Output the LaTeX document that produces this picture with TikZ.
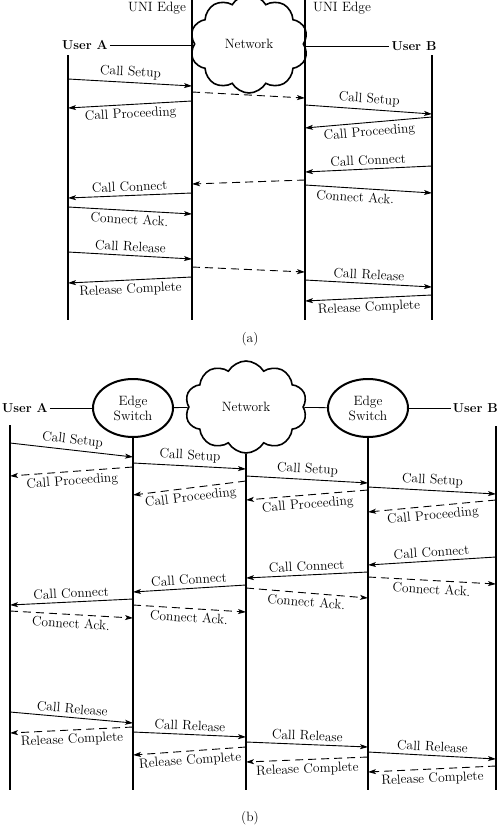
\documentclass[tikz,border=0pt]{standalone}
\usepackage{fontspec}
\usetikzlibrary{arrows.meta,shapes.geometric,shapes.symbols}
\tikzset{
  life/.style={line width=2pt},
  msg/.style={line width=0.9pt, -{Stealth[length=8pt,width=5pt,inset=2pt]}},
  reply/.style={msg, dash pattern=on 8pt off 5pt},
  lbl/.style={font=\fontsize{13.5}{15}\selectfont, inner sep=3.5pt, sloped},
  who/.style={font=\fontsize{13}{15}\selectfont\bfseries, inner sep=2pt},
  netcloud/.style={cloud, draw, line width=1.6pt, cloud puffs=10, cloud puff arc=120,
    cloud ignores aspect, inner sep=0pt, font=\fontsize{13.5}{15}\selectfont},
  switch/.style={ellipse, draw, line width=2pt, minimum width=80pt, minimum height=58pt,
    inner sep=0pt, align=center, font=\fontsize{13.5}{15}\selectfont}
}
\begin{document}
\begin{tikzpicture}[x=1pt, y=-1pt]
  \useasboundingbox (0,0) rectangle (500,827);
  % (a)
  \coordinate (aA) at (68,55);
  \coordinate (aL) at (192,0);
  \coordinate (aR) at (305,0);
  \coordinate (aB) at (432,55);
  \node[netcloud, minimum width=118pt, minimum height=98pt] (aNet) at (249,44) {Network};
  \node[font=\fontsize{13.5}{15}\selectfont] (aUniL) at (157,8) {UNI Edge};
  \node[font=\fontsize{13.5}{15}\selectfont] (aUniR) at (342,8) {UNI Edge};
  \node[who] (aUserA) at (85,45) {User A};
  \node[who] (aUserB) at (414,46) {User B};
  \draw[line width=0.8pt] (aUserA) -- (aL |- aUserA);
  \draw[line width=0.8pt] (aR |- aUserB) -- (aUserB);
  \draw[life] (aA) -- (aA |- 0,320);
  \draw[life] (aL) -- (aL |- 0,320);
  \draw[life] (aR) -- (aR |- 0,320);
  \draw[life] (aB) -- (aB |- 0,320);

  \draw[msg] (aA |- 0,79) -- (aL |- 0,86) node[midway, above, lbl] {Call Setup};
  \draw[reply] (aL |- 0,92) -- (aR |- 0,98);
  \draw[msg] (aR |- 0,105) -- (aB |- 0,114) node[midway, above, lbl] {Call Setup};
  \draw[msg] (aL |- 0,101) -- (aA |- 0,108) node[midway, below, lbl] {Call Proceeding};
  \draw[msg] (aB |- 0,117) -- (aR |- 0,128) node[midway, below, lbl] {Call Proceeding};
  \draw[msg] (aB |- 0,166) -- (aR |- 0,172) node[midway, above, lbl] {Call Connect};
  \draw[reply] (aR |- 0,180) -- (aL |- 0,184);
  \draw[msg] (aL |- 0,193) -- (aA |- 0,198) node[midway, above, lbl] {Call Connect};
  \draw[msg] (aA |- 0,207) -- (aL |- 0,214) node[midway, below, lbl] {Connect Ack.};
  \draw[msg] (aR |- 0,185) -- (aB |- 0,193) node[pos=0.4, below, lbl] {Connect Ack.};
  \draw[msg] (aA |- 0,252) -- (aL |- 0,259) node[midway, above, lbl] {Call Release};
  \draw[reply] (aL |- 0,267) -- (aR |- 0,272);
  \draw[msg] (aR |- 0,280) -- (aB |- 0,287) node[midway, above, lbl] {Call Release};
  \draw[msg] (aB |- 0,295) -- (aR |- 0,301) node[midway, below, lbl] {Release Complete};
  \draw[msg] (aL |- 0,277) -- (aA |- 0,283) node[midway, below, lbl] {Release Complete};
  \node[font=\fontsize{13.5}{15}\selectfont] (capA) at (250,339) {(a)};

  % (b)
  \node[who, anchor=west] (bUserA) at (0,408) {User A};
  \node[switch] (bSw1) at (133,408) {Edge\\Switch};
  \node[netcloud, minimum width=122pt, minimum height=92pt] (bNet) at (246,407) {Network};
  \node[switch] (bSw2) at (368,408) {Edge\\Switch};
  \node[who, anchor=east] (bUserB) at (500,408) {User B};
  \draw[line width=0.8pt] (bUserA) -- (bSw1);
  \draw[line width=0.8pt] (bSw1) -- (bNet);
  \draw[line width=0.8pt] (bNet) -- (bSw2);
  \draw[line width=0.8pt] (bSw2) -- (bUserB);
  \coordinate (bA) at (10,425);
  \coordinate (bB) at (496,426);
  \draw[life] (bA) -- (bA |- 0,790);
  \draw[life] (bSw1.south) -- (bSw1.south |- 0,790);
  \draw[life] (bNet.south) -- (bNet.south |- 0,790);
  \draw[life] (bSw2.south) -- (bSw2.south |- 0,790);
  \draw[life] (bB) -- (bB |- 0,790);

  \draw[msg] (bA |- 0,443) -- (bSw1 |- 0,457) node[midway, above, lbl] {Call Setup};
  \draw[reply] (bSw1 |- 0,467) -- (bA |- 0,476) node[midway, below, lbl] {Call Proceeding};
  \draw[msg] (bSw1 |- 0,463) -- (bNet |- 0,469) node[midway, above, lbl] {Call Setup};
  \draw[reply] (bNet |- 0,481) -- (bSw1 |- 0,495) node[midway, below, lbl] {Call Proceeding};
  \draw[msg] (bNet |- 0,476) -- (bSw2 |- 0,483) node[midway, above, lbl] {Call Setup};
  \draw[reply] (bSw2 |- 0,490) -- (bNet |- 0,500) node[midway, below, lbl] {Call Proceeding};
  \draw[msg] (bSw2 |- 0,487) -- (bB |- 0,494) node[midway, above, lbl] {Call Setup};
  \draw[reply] (bB |- 0,500) -- (bSw2 |- 0,512) node[midway, below, lbl] {Call Proceeding};

  \draw[msg] (bB |- 0,557) -- (bSw2 |- 0,565) node[midway, above, lbl] {Call Connect};
  \draw[reply] (bSw2 |- 0,577) -- (bB |- 0,584) node[midway, below, lbl] {Connect Ack.};
  \draw[msg] (bSw2 |- 0,572) -- (bNet |- 0,578) node[midway, above, lbl] {Call Connect};
  \draw[reply] (bNet |- 0,588) -- (bSw2 |- 0,598) node[midway, below, lbl] {Connect Ack.};
  \draw[msg] (bNet |- 0,585) -- (bSw1 |- 0,592) node[midway, above, lbl] {Call Connect};
  \draw[reply] (bSw1 |- 0,605) -- (bNet |- 0,612) node[midway, below, lbl] {Connect Ack.};
  \draw[msg] (bSw1 |- 0,599) -- (bA |- 0,605) node[midway, above, lbl] {Call Connect};
  \draw[reply] (bA |- 0,611) -- (bSw1 |- 0,618) node[midway, below, lbl] {Connect Ack.};

  \draw[msg] (bA |- 0,712) -- (bSw1 |- 0,723) node[midway, above, lbl] {Call Release};
  \draw[reply] (bSw1 |- 0,727) -- (bA |- 0,733) node[midway, below, lbl] {Release Complete};
  \draw[msg] (bSw1 |- 0,732) -- (bNet |- 0,737) node[midway, above, lbl] {Call Release};
  \draw[reply] (bNet |- 0,747) -- (bSw1 |- 0,755) node[midway, below, lbl] {Release Complete};
  \draw[msg] (bNet |- 0,742) -- (bSw2 |- 0,747) node[midway, above, lbl] {Call Release};
  \draw[reply] (bSw2 |- 0,757) -- (bNet |- 0,762) node[midway, below, lbl] {Release Complete};
  \draw[msg] (bSw2 |- 0,752) -- (bB |- 0,759) node[midway, above, lbl] {Call Release};
  \draw[reply] (bB |- 0,766) -- (bSw2 |- 0,772) node[midway, below, lbl] {Release Complete};
  \node[font=\fontsize{13.5}{15}\selectfont] (capB) at (250,818) {(b)};
\end{tikzpicture}
\end{document}
